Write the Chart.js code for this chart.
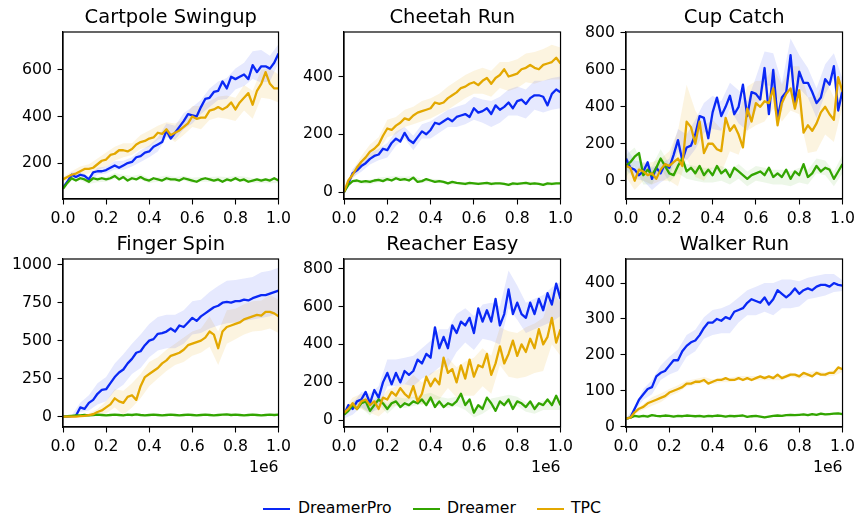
<!DOCTYPE html>
<html>
<head>
<meta charset="utf-8">
<script src="https://cdn.jsdelivr.net/npm/chart.js@4.4.1/dist/chart.umd.min.js"></script>
<style>
  html, body { margin: 0; padding: 0; background: #fff; }
  #wrap { position: relative; width: 859px; height: 516px; background: #fff; overflow: hidden; }
  #wrap canvas { position: absolute; }
  .leg { position: absolute; top: 497px; font-family: 'DejaVu Sans', sans-serif; font-size: 15.7px; color: #000; line-height: 22px; white-space: nowrap; }
  .sw { position: absolute; height: 2.4px; width: 27px; }
</style>
</head>
<body>
<div id="wrap">
  <div class="sw" style="left:263px; top:507.5px; background: rgb(10,40,245);"></div>
  <div class="leg" style="left:298px;">DreamerPro</div>
  <div class="sw" style="left:413px; top:507.5px; background: rgb(50,165,0);"></div>
  <div class="leg" style="left:447px;">Dreamer</div>
  <div class="sw" style="left:537px; top:507.5px; background: rgb(227,168,0);"></div>
  <div class="leg" style="left:571px;">TPC</div>
</div>
<script>
// ---------------- data ----------------
const TITLES = ['Cartpole Swingup', 'Cheetah Run', 'Cup Catch', 'Finger Spin', 'Reacher Easy', 'Walker Run'];
const SERIES = ['DreamerPro', 'Dreamer', 'TPC'];
// environment steps (x1e6)
const STEPS = [0,0.02,0.04,0.06,0.08,0.10,0.12,0.14,0.16,0.18,
  0.20,0.22,0.24,0.26,0.28,0.30,0.32,0.34,0.36,0.38,
  0.40,0.42,0.44,0.46,0.48,0.50,0.52,0.54,0.56,0.58,
  0.60,0.62,0.64,0.66,0.68,0.70,0.72,0.74,0.76,0.78,
  0.80,0.82,0.84,0.86,0.88,0.90,0.92,0.94,0.96,0.98,1.00];
const BAND_STEPS = [0,0.04,0.08,0.12,0.16,0.20,0.24,0.28,0.32,0.36,0.40,0.44,0.48,
  0.52,0.56,0.60,0.64,0.68,0.72,0.76,0.80,0.84,0.88,0.92,0.96,1.00];
const X_TICKS = [0, 0.2, 0.4, 0.6, 0.8, 1.0];

const CARTPOLE_YTICKS = [200, 400, 600];
const CHEETAH_YTICKS = [0, 200, 400];
const CUP_YTICKS = [0, 200, 400, 600, 800];
const FINGER_YTICKS = [0, 250, 500, 750, 1000];
const REACHER_YTICKS = [0, 200, 400, 600, 800];
const WALKER_YTICKS = [0, 100, 200, 300, 400];

// Cartpole Swingup
const cartpole_dreamerpro = [95,120,150,140,150,145,130,160,165,165,
  170,180,190,180,190,200,205,225,230,245,
  250,270,280,290,340,305,330,355,380,410,
  405,400,440,475,480,505,510,550,520,570,
  560,570,580,560,620,590,615,615,605,630,670];
const cartpole_dreamer = [90,115,135,125,135,130,120,135,130,135,
  130,135,145,130,140,125,135,130,140,130,
  125,135,130,125,135,130,130,125,135,130,
  125,120,130,135,130,125,130,120,130,125,
  135,125,130,120,125,130,125,130,125,135,125];
const cartpole_tpc = [130,140,150,155,165,175,175,180,195,210,
  215,235,240,255,255,250,260,280,290,295,
  305,310,330,325,345,320,330,340,355,370,
  400,390,395,395,425,430,440,430,440,460,
  430,460,480,500,450,510,540,590,540,520,520];
const cartpole_dreamerpro_sd = [5,10,12,15,15,15,18,20,20,25,25,30,30,30,35,35,30,40,40,45,45,50,60,70,55,40];
const cartpole_dreamer_sd = [8,10,10,10,12,10,12,10,10,12,10,10,12,10,10,12,10,10,12,10,10,12,10,10,12,10];
const cartpole_tpc_sd = [10,15,20,20,25,30,30,30,25,30,35,30,30,40,35,45,50,40,45,50,50,55,60,60,65,60];

// Cheetah Run
const cheetah_dreamerpro = [0,30,65,75,90,100,115,125,130,150,
  145,170,185,175,205,180,170,190,210,200,
  215,240,235,245,255,245,260,265,270,260,
  290,275,280,290,270,300,285,295,310,290,
  315,320,305,325,335,335,330,300,340,355,345];
const cheetah_dreamer = [0,25,38,40,35,38,35,40,42,38,
  45,40,48,42,45,40,50,35,38,45,
  40,35,38,35,30,35,32,30,28,32,
  30,28,30,32,28,30,30,28,25,30,
  28,30,32,28,30,28,25,30,28,30,30];
const cheetah_tpc = [0,40,60,85,105,120,140,150,165,195,
  220,215,230,240,255,250,265,275,280,285,
  290,310,305,310,325,335,345,360,365,375,
  380,370,385,395,375,395,405,425,400,405,
  410,425,430,440,430,425,440,445,450,465,445];
const cheetah_dreamerpro_sd = [0,15,20,20,20,25,25,20,25,25,30,30,30,35,35,40,40,45,45,45,50,50,50,55,55,55];
const cheetah_dreamer_sd = [0,5,6,8,8,8,8,8,6,6,6,6,5,5,5,5,5,5,5,5,5,5,5,5,5,5];
const cheetah_tpc_sd = [0,15,20,25,25,30,30,30,30,35,35,35,40,40,40,40,45,45,45,50,50,50,55,55,60,55];

// Cup Catch
const cup_dreamerpro = [120,70,60,30,50,100,10,70,40,90,
  70,140,220,110,180,190,250,350,340,230,
  370,450,350,400,460,360,400,520,350,480,
  470,440,610,360,600,340,450,480,680,420,
  590,530,530,480,420,450,550,520,620,380,490];
const cup_dreamer = [80,100,130,150,30,60,30,70,120,80,
  40,30,80,120,50,70,40,80,30,60,
  30,80,40,60,20,70,50,30,10,30,
  40,50,30,70,20,40,20,60,10,50,
  30,90,20,40,80,50,70,60,10,50,90];
const cup_tpc = [80,70,0,60,50,30,40,10,60,90,
  80,100,120,80,320,290,200,320,150,200,
  200,170,160,340,270,300,250,180,390,320,
  420,400,430,420,500,300,420,470,500,390,
  490,260,300,270,310,370,400,360,330,560,480];
const cup_dreamerpro_sd = [60,50,50,60,50,50,60,70,80,80,90,80,70,90,80,90,90,90,80,90,90,80,80,80,70,60];
const cup_dreamer_sd = [60,50,50,50,50,50,40,40,40,40,40,40,40,40,40,40,40,40,40,40,40,40,40,40,40,50];
const cup_tpc_sd = [60,50,50,60,60,80,150,200,180,150,130,120,110,110,120,120,110,110,100,120,130,150,150,150,120,80];

// Finger Spin
const finger_dreamerpro = [0,0,2,5,60,50,90,110,150,175,
  180,220,260,290,310,350,380,420,430,470,
  500,510,545,550,560,580,560,600,590,620,
  650,630,660,680,700,720,730,750,755,750,
  760,760,770,765,780,790,800,800,810,820,830];
const finger_dreamer = [0,2,5,8,8,10,8,10,12,10,
  8,10,12,10,8,12,10,14,10,8,
  10,12,10,8,10,12,10,8,10,12,
  10,8,10,12,10,8,10,12,14,10,
  12,10,8,10,12,10,8,10,12,10,12];
const finger_tpc = [0,0,0,0,2,5,10,15,30,40,
  60,80,120,100,90,130,140,110,200,260,
  280,300,320,350,370,400,410,420,440,470,
  480,490,500,520,560,540,450,560,590,600,
  610,620,640,650,660,670,665,690,690,680,660];
const finger_dreamerpro_sd = [0,5,30,50,70,80,90,100,100,110,110,110,110,110,110,110,110,120,130,140,140,140,140,150,150,150];
const finger_dreamer_sd = [2,4,5,5,5,5,5,5,5,5,5,5,5,5,5,5,5,5,5,5,5,5,5,5,5,5];
const finger_tpc_sd = [0,0,0,10,20,40,60,80,80,80,80,70,70,70,80,80,80,100,110,110,100,100,100,100,110,110];

// Reacher Easy
const reacher_dreamerpro = [30,80,60,100,110,150,90,160,120,200,
  250,190,250,200,260,240,260,320,300,350,
  330,490,380,440,380,500,460,520,500,540,
  460,590,520,580,520,640,500,560,690,560,
  620,560,540,620,560,640,580,670,610,720,640];
const reacher_dreamer = [30,50,80,60,90,100,50,80,110,90,
  60,90,100,70,90,80,100,90,110,80,
  120,70,100,70,90,80,100,140,80,110,
  40,80,60,120,90,50,100,80,110,60,
  100,90,70,100,60,90,80,110,80,130,80];
const reacher_tpc = [40,60,90,60,100,110,80,100,60,120,
  110,150,130,170,140,120,180,100,140,230,
  180,220,190,330,250,270,200,290,220,320,
  230,290,280,350,240,300,390,300,350,420,
  340,400,360,430,380,480,400,440,540,410,480];
const reacher_dreamerpro_sd = [20,30,40,50,60,70,70,70,80,80,90,100,100,100,90,90,90,100,100,100,90,80,80,80,90,90];
const reacher_dreamer_sd = [10,20,25,25,25,25,25,25,25,25,25,25,25,25,25,25,25,25,25,25,25,25,25,25,25,25];
const reacher_tpc_sd = [20,30,40,40,40,50,50,50,60,60,70,80,80,80,90,100,100,100,100,120,120,130,130,140,140,140];

// Walker Run
const walker_dreamerpro = [22,25,50,75,90,105,110,140,150,155,
  170,185,185,210,225,235,240,255,275,290,
  290,300,295,305,300,320,325,330,345,355,
  350,345,360,340,355,380,370,360,370,385,
  370,380,385,380,390,395,395,390,400,395,393];
const walker_dreamer = [22,25,30,28,30,28,32,30,29,31,
  30,28,30,29,31,30,29,30,28,30,
  29,31,30,28,30,29,30,31,27,29,
  30,28,26,28,30,31,30,32,33,32,
  33,34,32,35,33,36,34,35,36,37,35];
const walker_tpc = [22,25,40,50,55,65,70,75,80,85,
  95,100,105,110,120,120,125,125,130,120,
  125,130,130,135,130,130,135,130,135,130,
  135,140,135,140,135,145,135,140,145,145,
  140,150,145,140,150,145,145,150,150,165,160];
const walker_dreamerpro_sd = [2,5,15,20,20,25,30,30,30,30,35,35,40,35,35,40,40,45,40,40,35,30,30,30,25,15];
const walker_dreamer_sd = [2,3,3,3,3,3,3,3,3,3,3,3,3,3,3,3,3,3,3,3,3,3,3,3,3,3];
const walker_tpc_sd = [2,5,8,12,12,10,10,8,8,8,6,6,6,6,6,6,6,6,6,6,6,6,6,6,8,8];

// ---------------- styling / layout ----------------
const LINE_COLORS = ['rgb(10,40,245)', 'rgb(50,165,0)', 'rgb(227,168,0)'];
const BAND_COLORS = ['rgba(10,40,245,0.10)', 'rgba(50,165,0,0.09)', 'rgba(227,168,0,0.12)'];
const LINE_ORDER = [3, 2, 1];
const FONT = "'DejaVu Sans', sans-serif";

const PANELS = [
  { title: TITLES[0], means: [cartpole_dreamerpro, cartpole_dreamer, cartpole_tpc], sds: [cartpole_dreamerpro_sd, cartpole_dreamer_sd, cartpole_tpc_sd], yMin: 46, yMax: 762, yTicks: CARTPOLE_YTICKS, L: 63, R: 280, T: 32, B: 199, bottomRow: false },
  { title: TITLES[1], means: [cheetah_dreamerpro, cheetah_dreamer, cheetah_tpc], sds: [cheetah_dreamerpro_sd, cheetah_dreamer_sd, cheetah_tpc_sd], yMin: -24, yMax: 554, yTicks: CHEETAH_YTICKS, L: 344, R: 562, T: 32, B: 199, bottomRow: false },
  { title: TITLES[2], means: [cup_dreamerpro, cup_dreamer, cup_tpc], sds: [cup_dreamerpro_sd, cup_dreamer_sd, cup_tpc_sd], yMin: -99, yMax: 805, yTicks: CUP_YTICKS, L: 626, R: 844, T: 32, B: 199, bottomRow: false },
  { title: TITLES[3], means: [finger_dreamerpro, finger_dreamer, finger_tpc], sds: [finger_dreamerpro_sd, finger_dreamer_sd, finger_tpc_sd], yMin: -69, yMax: 1038, yTicks: FINGER_YTICKS, L: 63, R: 280, T: 259, B: 427, bottomRow: true },
  { title: TITLES[4], means: [reacher_dreamerpro, reacher_dreamer, reacher_tpc], sds: [reacher_dreamerpro_sd, reacher_dreamer_sd, reacher_tpc_sd], yMin: -35, yMax: 850, yTicks: REACHER_YTICKS, L: 344, R: 562, T: 259, B: 427, bottomRow: true },
  { title: TITLES[5], means: [walker_dreamerpro, walker_dreamer, walker_tpc], sds: [walker_dreamerpro_sd, walker_dreamer_sd, walker_tpc_sd], yMin: -1, yMax: 467, yTicks: WALKER_YTICKS, L: 626, R: 844, T: 259, B: 427, bottomRow: true },
];

Chart.defaults.font.family = FONT;
Chart.defaults.font.size = 15.7;
Chart.defaults.color = '#000';

const decor = {
  id: 'decor',
  afterDraw(chart, args, opts) {
    const { ctx, chartArea: a } = chart;
    ctx.save();
    ctx.strokeStyle = '#000';
    ctx.lineWidth = 1.2;
    ctx.strokeRect(a.left, a.top, a.right - a.left, a.bottom - a.top);
    ctx.fillStyle = '#000';
    ctx.font = "19.5px " + FONT;
    ctx.textAlign = 'center';
    ctx.textBaseline = 'alphabetic';
    ctx.fillText(opts.title, (a.left + a.right) / 2, a.top - 9.5);
    if (opts.offset) {
      ctx.font = "15.7px " + FONT;
      ctx.textAlign = 'right';
      ctx.fillText(opts.offset, a.right, a.bottom + 45);
    }
    ctx.restore();
  }
};

const wrap = document.getElementById('wrap');
const Y_AXIS_W = 63, PAD_TOP = 32, PAD_RIGHT = 16;

PANELS.forEach(p => {
  const xAxisH = p.bottomRow ? 52 : 30;
  const w = Y_AXIS_W + (p.R - p.L) + PAD_RIGHT;
  const h = PAD_TOP + (p.B - p.T) + xAxisH;
  const cv = document.createElement('canvas');
  cv.width = w; cv.height = h;
  cv.style.width = w + 'px'; cv.style.height = h + 'px';
  cv.style.left = (p.L - Y_AXIS_W) + 'px';
  cv.style.top = (p.T - PAD_TOP) + 'px';
  wrap.appendChild(cv);

  const datasets = [];
  SERIES.forEach((name, k) => {
    const m = p.means[k], sd = p.sds[k];
    datasets.push({
      label: name + ' upper',
      data: BAND_STEPS.map((x, i) => ({ x, y: m[2 * i] + sd[i] })),
      borderWidth: 0, pointRadius: 0, fill: false, order: 10,
      borderColor: 'rgba(0,0,0,0)', backgroundColor: 'rgba(0,0,0,0)'
    });
    datasets.push({
      label: name + ' lower',
      data: BAND_STEPS.map((x, i) => ({ x, y: m[2 * i] - sd[i] })),
      borderWidth: 0, pointRadius: 0, fill: '-1', order: 10,
      borderColor: 'rgba(0,0,0,0)', backgroundColor: BAND_COLORS[k]
    });
  });
  SERIES.forEach((name, k) => {
    datasets.push({
      label: name,
      data: STEPS.map((x, i) => ({ x, y: p.means[k][i] })),
      borderColor: LINE_COLORS[k], backgroundColor: LINE_COLORS[k],
      borderWidth: 2.3, pointRadius: 0, fill: false, tension: 0,
      borderJoinStyle: 'round', order: LINE_ORDER[k]
    });
  });

  new Chart(cv, {
    type: 'line',
    data: { datasets },
    options: {
      responsive: false,
      animation: false,
      events: [],
      layout: { padding: { top: PAD_TOP, right: PAD_RIGHT, left: 0, bottom: 0 } },
      plugins: {
        legend: { display: false },
        tooltip: { enabled: false },
        decor: { title: p.title, offset: p.bottomRow ? '1e6' : '' }
      },
      scales: {
        x: {
          type: 'linear', min: 0, max: 1,
          afterBuildTicks: s => { s.ticks = X_TICKS.map(v => ({ value: v })); },
          afterFit: s => { s.height = xAxisH; },
          ticks: { maxRotation: 0, autoSkip: false, padding: 5, callback: v => Number(v).toFixed(1), color: '#000' },
          grid: { drawOnChartArea: false, drawTicks: true, tickLength: 5.5, tickColor: '#000', tickWidth: 1.1 },
          border: { display: true, color: '#000', width: 1.2 }
        },
        y: {
          type: 'linear', min: p.yMin, max: p.yMax,
          afterBuildTicks: s => { s.ticks = p.yTicks.map(v => ({ value: v })); },
          afterFit: s => { s.width = Y_AXIS_W; },
          ticks: { padding: 5.5, callback: v => String(v), color: '#000' },
          grid: { drawOnChartArea: false, drawTicks: true, tickLength: 5.5, tickColor: '#000', tickWidth: 1.1 },
          border: { display: true, color: '#000', width: 1.2 }
        }
      }
    },
    plugins: [decor]
  });
});
</script>
</body>
</html>
